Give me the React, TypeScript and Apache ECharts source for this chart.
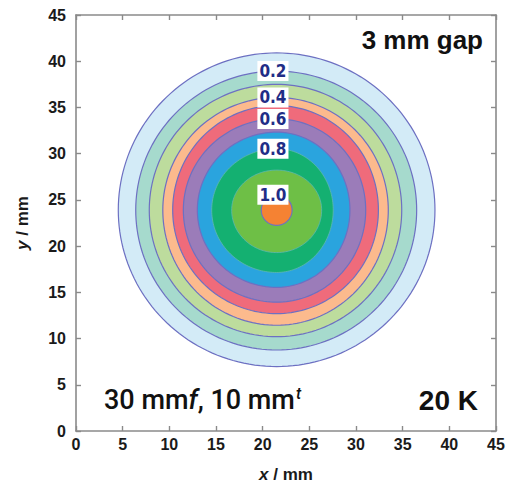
import React, { useEffect, useRef } from "react";
import * as echarts from "echarts";

// contour levels and their colours (outermost first)
const levels = [0.1, 0.2, 0.3, 0.4, 0.5, 0.6, 0.7, 0.8, 0.9, 1.0];
const levelColors = [
  "#d3ebf7", "#a6dacd", "#bddc9d", "#fcba8d", "#ef6b7b",
  "#9b7cb9", "#2aa4de", "#14b071", "#6ebf46", "#f58233",
];
// centre of the contour field (mm)
const centre = [21.5, 23.9];
// contour radii (mm) towards +x, +y, -x, -y
const rRight = [16.96, 15.0, 13.4, 11.96, 10.9, 9.54, 7.85, 6.06, 4.82, 1.65];
const rTop = [17.0, 15.03, 13.6, 12.18, 11.3, 9.86, 8.43, 6.64, 4.32, 1.65];
const rLeft = [16.97, 15.1, 13.65, 12.2, 11.14, 10.0, 8.5, 6.96, 4.82, 1.65];
const rBottom = [16.93, 15.14, 13.7, 12.46, 11.2, 9.96, 8.36, 6.75, 4.6, 1.65];
// contours that carry a label
const labelledLevels = [1, 3, 5, 7, 9];
const labelOffsetX = -0.4;
// axis ticks
const axisMin = 0;
const axisMax = 45;
const axisStep = 5;

const FONT = '"Liberation Sans", Arial, sans-serif';

function radiusAt(i: number, c: number, s: number) {
  const a = c >= 0 ? rRight[i] : rLeft[i];
  const b = s >= 0 ? rTop[i] : rBottom[i];
  return 1 / Math.sqrt((c * c) / (a * a) + (s * s) / (b * b));
}

export default function App() {
  const ref = useRef<HTMLDivElement>(null);
  useEffect(() => {
    if (!ref.current) return;
    const chart = echarts.init(ref.current, null, { renderer: "svg" });
    const axisLineStyle = { color: "#8a8a8a", width: 1.6 };
    const tickStyle = { color: "#8a8a8a", width: 1.4 };
    const option: any = {
      animation: false,
      backgroundColor: "#ffffff",
      grid: { left: 76, top: 15, width: 420, height: 420, containLabel: false },
      xAxis: [
        {
          type: "value",
          min: axisMin,
          max: axisMax,
          interval: axisStep,
          position: "bottom",
          axisLine: { show: true, onZero: false, lineStyle: axisLineStyle },
          axisTick: { show: true, inside: true, length: 5, lineStyle: tickStyle },
          splitLine: { show: false },
          axisLabel: {
            color: "#1a1a1a",
            fontWeight: "bold",
            fontSize: 16,
            fontFamily: FONT,
            margin: 5,
          },
          name: "{i|x} / mm",
          nameLocation: "middle",
          nameGap: 35,
          nameTextStyle: {
            color: "#1a1a1a",
            fontWeight: "bold",
            fontSize: 17,
            fontFamily: FONT,
            rich: {
              i: { fontStyle: "italic", fontWeight: "bold", fontSize: 17, fontFamily: FONT, color: "#1a1a1a" },
            },
          },
        },
        {
          type: "value",
          min: axisMin,
          max: axisMax,
          interval: axisStep,
          position: "top",
          axisLine: { show: true, onZero: false, lineStyle: axisLineStyle },
          axisTick: { show: true, inside: true, length: 5, lineStyle: tickStyle },
          splitLine: { show: false },
          axisLabel: { show: false },
        },
      ],
      yAxis: [
        {
          type: "value",
          min: axisMin,
          max: axisMax,
          interval: axisStep,
          position: "left",
          axisLine: { show: true, onZero: false, lineStyle: axisLineStyle },
          axisTick: { show: true, inside: true, length: 5, lineStyle: tickStyle },
          splitLine: { show: false },
          axisLabel: {
            color: "#1a1a1a",
            fontWeight: "bold",
            fontSize: 16,
            fontFamily: FONT,
            margin: 10,
          },
          name: "{i|y} / mm",
          nameLocation: "middle",
          nameGap: 45,
          nameTextStyle: {
            color: "#1a1a1a",
            fontWeight: "bold",
            fontSize: 17,
            fontFamily: FONT,
            rich: {
              i: { fontStyle: "italic", fontWeight: "bold", fontSize: 17, fontFamily: FONT, color: "#1a1a1a" },
            },
          },
        },
        {
          type: "value",
          min: axisMin,
          max: axisMax,
          interval: axisStep,
          position: "right",
          axisLine: { show: true, onZero: false, lineStyle: axisLineStyle },
          axisTick: { show: true, inside: true, length: 5, lineStyle: tickStyle },
          splitLine: { show: false },
          axisLabel: { show: false },
        },
      ],
      series: [
        {
          type: "custom",
          xAxisIndex: 0,
          yAxisIndex: 0,
          silent: true,
          clip: true,
          data: levels.map((lv, i) => [centre[0], centre[1], i, lv]),
          renderItem: (params: any, api: any) => {
            const i = api.value(2);
            const pts: number[][] = [];
            const N = 180;
            for (let k = 0; k < N; k++) {
              const t = (2 * Math.PI * k) / N;
              const c = Math.cos(t);
              const s = Math.sin(t);
              const r = radiusAt(i, c, s);
              pts.push(api.coord([centre[0] + r * c, centre[1] + r * s]));
            }
            const inner = i >= 7 && i <= 8;
            return {
              type: "polygon",
              shape: { points: pts },
              style: {
                fill: levelColors[i],
                stroke: inner ? "#5fb7b0" : "#6d70c2",
                lineWidth: inner ? 0.8 : 1.2,
              },
            };
          },
        },
        {
          type: "custom",
          xAxisIndex: 0,
          yAxisIndex: 0,
          silent: true,
          data: labelledLevels.map((i) => [centre[0] + labelOffsetX, centre[1] + rTop[i], levels[i]]),
          renderItem: (params: any, api: any) => {
            const p = api.coord([api.value(0), api.value(1)]);
            return {
              type: "text",
              x: p[0],
              y: p[1],
              style: {
                text: Number(api.value(2)).toFixed(1),
                fill: "#1f2d86",
                fontSize: 17,
                fontWeight: "bold",
                fontFamily: '"Liberation Sans Narrow", "DejaVu Sans Condensed", sans-serif',
                align: "center",
                verticalAlign: "middle",
                backgroundColor: "#ffffff",
                padding: [2, 2, 1, 2],
              },
            };
          },
        },
      ],
      graphic: [
        {
          type: "text",
          right: 25,
          top: 27,
          style: {
            text: "3 mm gap",
            fill: "#111",
            fontSize: 26,
            fontWeight: "bold",
            fontFamily: FONT,
          },
        },
        {
          type: "text",
          right: 30,
          top: 386,
          style: {
            text: "20 K",
            fill: "#111",
            fontSize: 28,
            fontWeight: "bold",
            fontFamily: FONT,
          },
        },
        {
          type: "text",
          left: 104,
          top: 385,
          style: {
            text: "30 mm{i|f}, 10 mm{s|t}",
            fill: "#111",
            fontSize: 27,
            fontWeight: 500,
            fontFamily: "Roboto, " + FONT,
            rich: {
              i: { fontSize: 27, fontStyle: "italic", fontWeight: 500, fontFamily: "Roboto, " + FONT, fill: "#111" },
              s: { fontSize: 16, fontStyle: "italic", fontWeight: 500, fontFamily: "Roboto, " + FONT, fill: "#111", padding: [0, 0, 14, 1] },
            },
          },
        },
      ],
    };
    chart.setOption(option);
    return () => chart.dispose();
  }, []);
  return (
    <div
      ref={ref}
      style={{ position: "absolute", left: 0, top: 0, width: 508, height: 488 }}
    />
  );
}
